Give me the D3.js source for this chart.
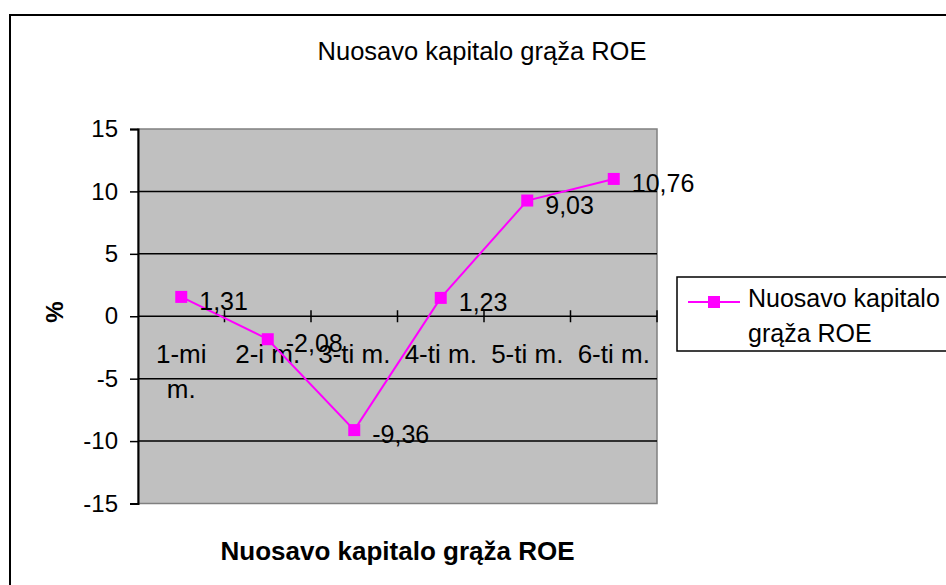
<!DOCTYPE html>
<html>
<head>
<meta charset="utf-8">
<script src="https://cdn.jsdelivr.net/npm/d3@7"></script>
<style>
  body { margin: 0; background: #fff; }
  text { font-family: "Liberation Sans", Arial, sans-serif; fill: #000; }
</style>
</head>
<body>
<svg id="chart"></svg>
<script>
// Data
const categories = ["1-mi m.", "2-i m.", "3-ti m.", "4-ti m.", "5-ti m.", "6-ti m."];
const roeValues = [1.31, -2.08, -9.36, 1.23, 9.03, 10.76];
const valueLabels = ["1,31", "-2,08", "-9,36", "1,23", "9,03", "10,76"];
const yTicks = [-15, -10, -5, 0, 5, 10, 15];
const seriesName = "Nuosavo kapitalo grąža ROE";
const chartTitle = "Nuosavo kapitalo grąža ROE";
const xTitle = "Nuosavo kapitalo grąža ROE";
const yTitle = "%";

const W = 946, H = 585;
const plot = {left: 138, right: 657, top: 129, bottom: 503.5};
const magenta = "#ff00ff";

const svg = d3.select("#chart")
    .attr("width", W)
    .attr("height", H);

// Outer chart frame (runs off the right and bottom)
svg.append("rect")
    .attr("x", 10).attr("y", 15)
    .attr("width", 980).attr("height", 620)
    .attr("fill", "#fff")
    .attr("stroke", "#000")
    .attr("stroke-width", 2);

const x = d3.scaleBand()
    .domain(categories)
    .range([plot.left, plot.right]);

const y = d3.scaleLinear()
    .domain([-15, 15])
    .range([plot.bottom, plot.top]);

// Plot area
svg.append("rect")
    .attr("x", plot.left).attr("y", plot.top)
    .attr("width", plot.right - plot.left)
    .attr("height", plot.bottom - plot.top)
    .attr("fill", "#c0c0c0")
    .attr("stroke", "#808080")
    .attr("stroke-width", 1.5);

// Gridlines
svg.append("g")
    .selectAll("line")
    .data(yTicks.filter(d => d !== -15 && d !== 15))
    .join("line")
    .attr("x1", plot.left).attr("x2", plot.right)
    .attr("y1", d => y(d)).attr("y2", d => y(d))
    .attr("stroke", "#000")
    .attr("stroke-width", 1.5);

// Y axis
const yAxis = svg.append("g")
    .attr("transform", `translate(${plot.left},0)`)
    .call(d3.axisLeft(y).tickValues(yTicks).tickSize(8).tickPadding(12).tickFormat(d3.format("d")));
yAxis.select(".domain").attr("stroke", "#000").attr("stroke-width", 2);
yAxis.selectAll(".tick line").attr("stroke", "#000").attr("stroke-width", 1.5);
yAxis.selectAll(".tick text")
    .attr("font-size", 24)
    .attr("font-family", "Liberation Sans, Arial, sans-serif")
    .text(d => d < 0 ? "-" + Math.abs(d) : d);

// X axis on the zero line, ticks crossing at category boundaries
const boundaries = categories.map(c => x(c) + x.bandwidth());
svg.append("g")
    .selectAll("line")
    .data(boundaries)
    .join("line")
    .attr("x1", d => d).attr("x2", d => d)
    .attr("y1", y(0) - 6).attr("y2", y(0) + 6)
    .attr("stroke", "#000")
    .attr("stroke-width", 1.5);

// Category labels, wrapped like the original
svg.append("g")
    .selectAll("text")
    .data(categories)
    .join("text")
    .attr("x", d => x(d) + x.bandwidth() / 2)
    .attr("y", y(0) + 47)
    .attr("text-anchor", "middle")
    .attr("font-size", 26)
    .each(function(d) {
        const t = d3.select(this);
        const words = d.split(" ");
        t.text(d);
        if (this.getComputedTextLength() > 80 && words.length > 1) {
            t.text(null);
            const cx = t.attr("x");
            t.append("tspan").attr("x", cx).text(words.slice(0, -1).join(" "));
            t.append("tspan").attr("x", cx).attr("dy", 35).text(words[words.length - 1]);
        }
    });

// Series (drawn slightly raised, as in the original rendering)
const series = svg.append("g").attr("transform", "translate(0,-3)");
const line = d3.line()
    .x((d, i) => x(categories[i]) + x.bandwidth() / 2)
    .y(d => y(d));

series.append("path")
    .datum(roeValues)
    .attr("d", line)
    .attr("fill", "none")
    .attr("stroke", magenta)
    .attr("stroke-width", 2);

series.selectAll("rect")
    .data(roeValues)
    .join("rect")
    .attr("x", (d, i) => x(categories[i]) + x.bandwidth() / 2 - 6)
    .attr("y", d => y(d) - 6)
    .attr("width", 12).attr("height", 12)
    .attr("fill", magenta);

series.selectAll("text")
    .data(roeValues)
    .join("text")
    .attr("x", (d, i) => x(categories[i]) + x.bandwidth() / 2 + 18)
    .attr("y", d => y(d) + 4)
    .attr("dominant-baseline", "central")
    .attr("font-size", 25)
    .text((d, i) => valueLabels[i]);

// Chart title
svg.append("text")
    .attr("x", 482).attr("y", 60)
    .attr("text-anchor", "middle")
    .attr("font-size", 25.5)
    .text(chartTitle);

// Axis titles
svg.append("text")
    .attr("x", (plot.left + plot.right) / 2).attr("y", 560)
    .attr("text-anchor", "middle")
    .attr("font-size", 26)
    .attr("font-weight", "bold")
    .text(xTitle);

svg.append("text")
    .attr("transform", "translate(54,312) rotate(-90)")
    .attr("text-anchor", "middle")
    .attr("dominant-baseline", "central")
    .attr("font-size", 24)
    .attr("font-weight", "bold")
    .text(yTitle);

// Legend
const legend = svg.append("g");
legend.append("rect")
    .attr("x", 677).attr("y", 277)
    .attr("width", 300).attr("height", 74)
    .attr("fill", "#fff")
    .attr("stroke", "#000")
    .attr("stroke-width", 1.5);
legend.append("line")
    .attr("x1", 688).attr("x2", 740)
    .attr("y1", 302).attr("y2", 302)
    .attr("stroke", magenta)
    .attr("stroke-width", 2);
legend.append("rect")
    .attr("x", 714 - 6).attr("y", 302 - 6)
    .attr("width", 12).attr("height", 12)
    .attr("fill", magenta);
const legendWords = seriesName.split(" ");
const lt = legend.append("text")
    .attr("x", 748).attr("y", 307)
    .attr("font-size", 25);
lt.append("tspan").attr("x", 748).text(legendWords.slice(0, 2).join(" "));
lt.append("tspan").attr("x", 748).attr("dy", 35).text(legendWords.slice(2).join(" "));
</script>
</body>
</html>
